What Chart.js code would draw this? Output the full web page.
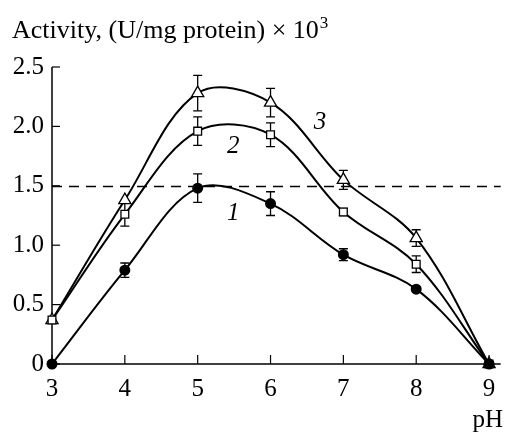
<!DOCTYPE html>
<html><head><meta charset="utf-8">
<script src="https://cdn.jsdelivr.net/npm/chart.js@4/dist/chart.umd.min.js"></script>
<style>html,body{margin:0;padding:0;background:#fff}#wrap{width:509px;height:433px}</style>
</head><body><div id="wrap"><canvas id="c" width="509" height="433"></canvas></div>
<script>
const phValues = [3, 4, 5, 6, 7, 8, 9];
const curve1 = [0, 0.79, 1.48, 1.35, 0.92, 0.63, 0];
const curve2 = [0.37, 1.26, 1.96, 1.93, 1.28, 0.84, 0];
const curve3 = [0.37, 1.38, 2.28, 2.20, 1.55, 1.06, 0];
const err1 = [0, 0.06, 0.12, 0.10, 0.05, 0.02, 0];
const err2 = [0, 0.10, 0.12, 0.10, 0.03, 0.07, 0];
const err3 = [0, 0, 0.15, 0.12, 0.08, 0.07, 0];
const yTicks = [0, 0.5, 1.0, 1.5, 2.0, 2.5];
const xTicks = [3, 4, 5, 6, 7, 8, 9];
const refLevel = 1.5;
const curveLabels = [{t:'1', x:5.49, y:1.27}, {t:'2', x:5.49, y:1.83}, {t:'3', x:6.68, y:2.03}];
const titleText = 'Activity, (U/mg protein) \u00d7 10';
const titleSup = '3';
const xTitle = 'pH';

const FONT = '"Liberation Serif", "Times New Roman", serif';
const toPts = arr => arr.map((v, i) => ({x: phValues[i], y: v}));

const extras = {
  id: 'extras',
  beforeDatasetsDraw(chart) {
    const ctx = chart.ctx, xs = chart.scales.x, ys = chart.scales.y, a = chart.chartArea;
    ctx.save();
    ctx.strokeStyle = '#000'; ctx.lineWidth = 1.3; ctx.setLineDash([10, 7]);
    const yr = Math.round(ys.getPixelForValue(refLevel)) + 0.5;
    ctx.beginPath(); ctx.moveTo(a.left, yr); ctx.lineTo(a.right, yr); ctx.stroke();
    ctx.setLineDash([]);
    ctx.lineWidth = 1.5;
    ctx.beginPath();
    ctx.moveTo(a.left, a.top); ctx.lineTo(a.left, a.bottom); ctx.lineTo(a.right, a.bottom);
    ctx.stroke();
    ctx.lineWidth = 1.2;
    yTicks.forEach(v => { const p = ys.getPixelForValue(v); ctx.beginPath(); ctx.moveTo(a.left, p); ctx.lineTo(a.left + 8, p); ctx.stroke(); });
    xTicks.forEach(v => { const p = xs.getPixelForValue(v); ctx.beginPath(); ctx.moveTo(p, a.bottom); ctx.lineTo(p, a.bottom - 9); ctx.stroke(); });
    const errs = [err1, err2, err3];
    chart.data.datasets.forEach((ds, di) => {
      ds.data.forEach((pt, i) => {
        const e = errs[di][i];
        if (!e) return;
        const px = xs.getPixelForValue(pt.x);
        const t = ys.getPixelForValue(pt.y + e), b = ys.getPixelForValue(pt.y - e);
        ctx.lineWidth = 1.3;
        ctx.beginPath();
        ctx.moveTo(px, t); ctx.lineTo(px, b);
        ctx.moveTo(px - 4.5, t); ctx.lineTo(px + 4.5, t);
        ctx.moveTo(px - 4.5, b); ctx.lineTo(px + 4.5, b);
        ctx.stroke();
      });
    });
    ctx.restore();
  },
  afterDraw(chart) {
    const ctx = chart.ctx, xs = chart.scales.x, ys = chart.scales.y;
    ctx.save();
    ctx.fillStyle = '#000';
    ctx.textBaseline = 'alphabetic';
    ctx.textAlign = 'left';
    ctx.font = '26px ' + FONT;
    ctx.fillText(titleText, 12, 38);
    const w = ctx.measureText(titleText).width;
    ctx.font = '17px ' + FONT;
    ctx.fillText(titleSup, 12 + w + 1, 28);
    ctx.font = '25px ' + FONT;
    ctx.textAlign = 'right';
    ctx.fillText(xTitle, 503, 427);
    ctx.font = 'italic 25px ' + FONT;
    ctx.textAlign = 'center'; ctx.textBaseline = 'middle';
    curveLabels.forEach(l => ctx.fillText(l.t, xs.getPixelForValue(l.x), ys.getPixelForValue(l.y)));
    ctx.restore();
  }
};

new Chart(document.getElementById('c'), {
  type: 'line',
  data: {
    datasets: [
      {data: toPts(curve1), borderColor: '#000', borderWidth: 2, pointStyle: 'circle', pointRadius: 4.5, pointBackgroundColor: '#000', pointBorderColor: '#000', tension: 0.35, clip: false},
      {data: toPts(curve2), borderColor: '#000', borderWidth: 2, pointStyle: 'rect', pointRadius: 5.5, pointBackgroundColor: '#fff', pointBorderColor: '#000', pointBorderWidth: 1.3, tension: 0.35, clip: false},
      {data: toPts(curve3), borderColor: '#000', borderWidth: 2, pointStyle: 'triangle', pointRadius: 7, pointBackgroundColor: '#fff', pointBorderColor: '#000', pointBorderWidth: 1.3, tension: 0.35, clip: false}
    ]
  },
  options: {
    responsive: false, animation: false, devicePixelRatio: 1,
    layout: {padding: {top: 67, right: 0, left: 0, bottom: 0}},
    plugins: {legend: {display: false}, tooltip: {enabled: false}},
    scales: {
      x: {type: 'linear', min: 3, max: 9.16,
          afterBuildTicks: s => { s.ticks = xTicks.map(v => ({value: v})); },
          afterFit: s => { s.height = 69; },
          border: {display: false}, grid: {display: false, drawTicks: false},
          ticks: {color: '#000', font: {family: FONT, size: 25}, padding: 10, maxRotation: 0, autoSkip: false}},
      y: {type: 'linear', min: 0, max: 2.5,
          afterBuildTicks: s => { s.ticks = yTicks.map(v => ({value: v})); },
          afterFit: s => { s.width = 52; },
          border: {display: false}, grid: {display: false, drawTicks: false},
          ticks: {color: '#000', font: {family: FONT, size: 25}, padding: 8,
                  callback: v => v === 0 ? '0' : Number(v).toFixed(1)}}
    }
  },
  plugins: [extras]
});
</script></body></html>
